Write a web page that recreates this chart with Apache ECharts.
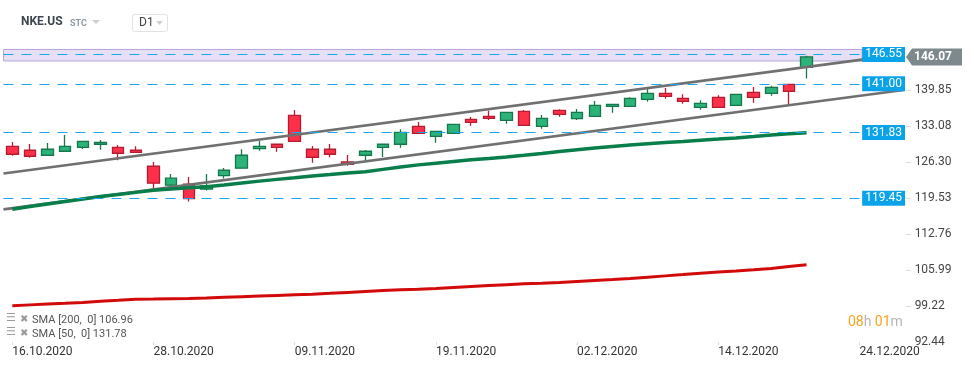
<!DOCTYPE html>
<html>
<head>
<meta charset="utf-8">
<script src="https://cdn.jsdelivr.net/npm/echarts@6/dist/echarts.min.js"></script>
<style>
html,body{margin:0;padding:0;background:#fff;}
#chart{width:974px;height:368px;}
</style>
</head>
<body>
<div id="chart"></div>
<script>
// ---- data ----
const dates = ['16.10.2020','19.10.2020','20.10.2020','21.10.2020','22.10.2020','23.10.2020','26.10.2020','27.10.2020',
  '28.10.2020','29.10.2020','30.10.2020','02.11.2020','03.11.2020','04.11.2020','05.11.2020','06.11.2020',
  '09.11.2020','10.11.2020','11.11.2020','12.11.2020','13.11.2020','16.11.2020','17.11.2020','18.11.2020',
  '19.11.2020','20.11.2020','23.11.2020','24.11.2020','25.11.2020','27.11.2020','30.11.2020','01.12.2020',
  '02.12.2020','03.12.2020','04.12.2020','07.12.2020','08.12.2020','09.12.2020','10.12.2020','11.12.2020',
  '14.12.2020','15.12.2020','16.12.2020','17.12.2020','18.12.2020','21.12.2020','22.12.2020','23.12.2020',
  '24.12.2020','28.12.2020','29.12.2020'];
const opens  = [129.25,128.50,127.56,128.31,129.06,129.63,129.06,128.50,125.49,121.92,122.11,121.17,123.72,125.12,128.80,129.63,
  135.08,128.69,128.69,126.30,127.56,129.06,129.63,133.01,131.13,131.69,134.33,134.89,134.14,135.83,133.01,136.02,
  134.44,134.89,136.77,136.77,138.09,139.21,138.27,136.58,138.46,136.96,139.40,139.21,140.91,144.10];
const closes = [127.75,127.37,128.69,129.25,130.19,130.00,127.94,128.12,122.30,123.24,119.40,121.79,124.74,127.56,129.25,129.06,
  130.19,127.18,127.75,125.87,128.31,129.63,131.88,131.69,132.07,133.39,133.76,134.51,135.64,133.20,134.51,135.27,
  135.64,136.96,137.15,138.27,139.21,138.65,137.71,137.33,136.58,139.03,138.46,140.34,139.59,146.07];
const lows   = [127.48,127.11,127.50,128.25,128.74,128.61,126.62,128.05,121.41,121.60,118.84,120.91,123.16,125.05,128.42,128.24,
  130.10,126.17,127.18,125.60,126.62,127.24,128.99,131.60,129.93,131.60,133.12,134.19,133.50,133.10,132.56,134.81,
  134.19,134.80,135.57,136.70,137.63,138.20,137.26,136.13,136.50,136.90,137.45,138.76,137.07,142.03];
const highs  = [130.06,129.68,129.87,131.38,130.25,130.44,129.50,129.25,126.30,124.04,123.48,124.04,125.17,128.69,130.25,129.70,
  136.07,129.31,129.68,127.62,128.56,129.70,132.45,133.82,132.15,133.45,134.76,135.94,135.70,136.07,135.13,136.21,
  136.26,137.77,137.20,138.46,140.40,140.21,139.03,137.90,138.84,139.10,140.40,140.64,141.00,146.30];
const sma50  = [117.41,117.90,118.39,118.86,119.33,119.80,120.19,120.57,120.95,121.19,121.42,121.62,121.96,122.32,122.69,123.02,
  123.33,123.65,123.92,124.20,124.47,124.90,125.33,125.75,126.07,126.39,126.70,126.97,127.25,127.54,127.89,128.25,
  128.61,128.91,129.21,129.49,129.72,129.95,130.17,130.40,130.61,130.83,131.09,131.36,131.60,131.78];
const sma200 = [99.24,99.39,99.54,99.69,99.85,100.05,100.24,100.44,100.49,100.55,100.60,100.68,100.81,100.93,101.05,101.17,
  101.29,101.41,101.56,101.74,101.92,102.10,102.26,102.34,102.45,102.64,102.83,103.02,103.20,103.38,103.48,103.62,
  103.80,103.98,104.16,104.35,104.60,104.85,105.09,105.34,105.56,105.78,106.01,106.25,106.61,106.96];
const yTicks = [92.44,99.22,105.99,112.76,119.53,126.30,133.08,139.85];
const levels = [146.55,141.00,131.83,119.45];
const zone = [145.31,147.48];
const channelX = [-0.5,50.5];
const channelUpper = [124.14,146.60];
const channelLower = [117.37,139.83];
const symbolName = 'NKE.US';
const lastClose = closes[closes.length-1];

// ---- chart ----
const chart = echarts.init(document.getElementById('chart'), null, {renderer:'canvas'});
const FONT = 'Roboto';
const levelEnd = 48.15;
const candleData = closes.map((c,i)=>[opens[i], c, lows[i], highs[i]]);

const option = {
  animation:false,
  backgroundColor:'#fff',
  grid:{left:3.475, right:70.375, top:40, bottom:26},
  xAxis:[{
    type:'category', data:dates, boundaryGap:true,
    axisLine:{show:false},
    axisTick:{show:true, interval:7, alignWithLabel:true, length:3, lineStyle:{color:'#ddd'}},
    axisLabel:{interval:7, align:'left', margin:4, color:'#333', fontSize:12, fontFamily:FONT},
    splitLine:{show:false}
  },{
    type:'value', min:channelX[0], max:channelX[1], show:false
  }],
  yAxis:[{
    type:'value', position:'right', min:92.40, max:149.26, scale:true,
    axisLine:{show:false},
    axisTick:{show:false},
    axisLabel:{margin:11, color:'#444', fontSize:12, fontFamily:FONT, customValues:yTicks,
      formatter:v=>Number(v).toFixed(2)},
    splitLine:{show:false}
  }],
  series:[
    {
      type:'candlestick', xAxisIndex:0, yAxisIndex:0, data:candleData, barWidth:12, z:2,
      itemStyle:{color:'#2bb37a', color0:'#fd3049', borderColor:'#16774b', borderColor0:'#b51c30', borderWidth:1.3}
    },
    {
      type:'line', xAxisIndex:1, yAxisIndex:0, data:channelX.map((x,i)=>[x,channelUpper[i]]),
      symbol:'none', lineStyle:{color:'#707070', width:2.6}, z:4, silent:true
    },
    {
      type:'line', xAxisIndex:1, yAxisIndex:0, data:channelX.map((x,i)=>[x,channelLower[i]]),
      symbol:'none', lineStyle:{color:'#707070', width:2.6}, z:4, silent:true
    },
    {
      type:'line', xAxisIndex:0, yAxisIndex:0, data:sma200, symbol:'none',
      lineStyle:{color:'#d20a0a', width:3}, z:4
    },
    {
      type:'line', xAxisIndex:0, yAxisIndex:0, data:sma50, symbol:'none',
      lineStyle:{color:'#087e4b', width:3.5}, z:4
    },
    {
      type:'line', xAxisIndex:1, yAxisIndex:0, data:[], z:6,
      markArea:{silent:true,
        itemStyle:{color:'rgba(200,185,232,0.45)', borderColor:'#b7a4da', borderWidth:1},
        data:[[{coord:[channelX[0], zone[1]]},{coord:[levelEnd, zone[0]]}]]
      },
      markLine:{silent:true, symbol:['none','none'],
        lineStyle:{color:'#1aa6ea', width:1.2, type:[10,8]},
        label:{show:true, position:'end', distance:0, color:'#fff', backgroundColor:'#0aa3ea',
          padding:[1,3,0,3], fontSize:12, lineHeight:14, fontFamily:FONT,
          formatter:p=>Number(p.value).toFixed(2)},
        data:levels.map(v=>[{coord:[channelX[0], v], value:v},{coord:[levelEnd, v], value:v}])
      }
    }
  ],
  graphic:[
    {id:'sym', type:'text', left:21, top:16, style:{text:symbolName, fill:'#3c4650', font:'bold 12px Roboto'}},
    {id:'stc', type:'text', left:70, top:19, style:{text:'STC', fill:'#8d9aa7', font:'bold 9px Roboto'}},
    {id:'tri1', type:'polygon', shape:{points:[[92,20],[100,20],[96,24]]}, style:{fill:'#cfcfcf'}},
    {id:'box', type:'rect', shape:{x:132.5,y:14.5,width:35,height:17,r:2}, style:{fill:'#fff', stroke:'#e2e2e2', lineWidth:1}},
    {id:'d1', type:'text', left:139, top:17, style:{text:'D1', fill:'#444', font:'12px Roboto'}},
    {id:'tri2', type:'polygon', shape:{points:[[156,21],[163,21],[159.5,25]]}, style:{fill:'#cfcfcf'}},
    {id:'ic1', type:'text', left:6, top:313, style:{text:'☰', fill:'#9a9a9a', font:'11px "DejaVu Sans"'}},
    {id:'ix1', type:'text', left:20, top:314, style:{text:'✖', fill:'#9a9a9a', font:'10px "DejaVu Sans"'}},
    {id:'lg1', type:'text', left:32, top:315, style:{text:'SMA [200,  0] '+sma200[sma200.length-1].toFixed(2), fill:'#555', font:'11px Roboto'}},
    {id:'ic2', type:'text', left:6, top:327, style:{text:'☰', fill:'#9a9a9a', font:'11px "DejaVu Sans"'}},
    {id:'ix2', type:'text', left:20, top:328, style:{text:'✖', fill:'#9a9a9a', font:'10px "DejaVu Sans"'}},
    {id:'lg2', type:'text', left:32, top:329, style:{text:'SMA [50,  0] '+sma50[sma50.length-1].toFixed(2), fill:'#555', font:'11px Roboto'}},
    {id:'timer', type:'text', left:848, top:315, style:{
      text:'{o|08}{g|h} {o|01}{g|m}',
      rich:{o:{fill:'#f7a21e', font:'14px Roboto'}, g:{fill:'#b5b5b5', font:'14px Roboto'}}
    }}
  ]
};
chart.setOption(option);

// current price badge and y-axis tick marks, placed through the y scale
const py = chart.convertToPixel({yAxisIndex:0}, lastClose);
const bx = 906, bh = 8.5;
const extra = [
  {id:'pbadge', type:'polygon', z:100,
    shape:{points:[[bx,py],[bx+6,py-bh],[962,py-bh],[962,py+bh],[bx+6,py+bh]]},
    style:{fill:'#7e898e'}},
  {id:'ptext', type:'text', z:101, x:914, y:py, style:{text:lastClose.toFixed(2), fill:'#fff', font:'bold 12px Roboto', verticalAlign:'middle'}}
];
yTicks.forEach((t,i)=>{
  const ty = Math.round(chart.convertToPixel({yAxisIndex:0}, t)) + 0.5;
  if (i > 0) extra.push({id:'yt'+i, type:'line', shape:{x1:906, y1:ty, x2:911, y2:ty}, style:{stroke:'#dcdcdc', lineWidth:1}});
});
chart.setOption({graphic:extra});
</script>
</body>
</html>
